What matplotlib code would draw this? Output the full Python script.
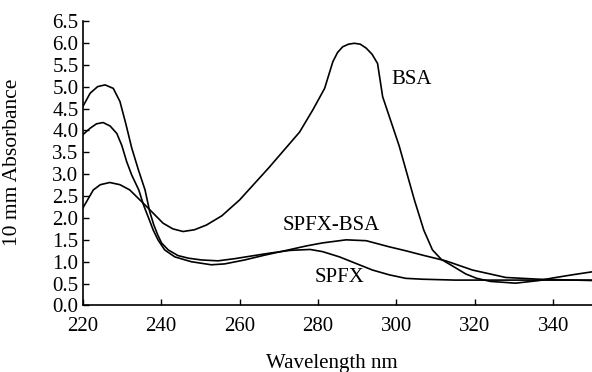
import matplotlib

matplotlib.use("Agg")
import matplotlib.pyplot as plt

plt.rcParams["font.family"] = ["Liberation Serif", "DejaVu Serif"]

# absorbance curves (wavelength nm, absorbance)
bsa_wl = [220, 222.7, 224.5, 226.9, 229.5, 232.0, 236.3, 240.5, 243.0, 245.6,
          248.5, 251.6, 255.5, 260.0, 267.5, 275.3, 278.7, 281.7, 283.8, 285.0,
          286.3, 287.8, 289.3, 290.8, 292.3, 293.8, 295.2, 296.5, 300.7, 304.6,
          307.0, 309.2, 311.5, 314.0, 317.7, 320.5, 324.0, 330.4, 336.4, 340.0,
          344.8, 350]
bsa_abs = [2.22, 2.64, 2.76, 2.81, 2.76, 2.64, 2.26, 1.88, 1.75, 1.69,
           1.73, 1.84, 2.05, 2.41, 3.15, 3.96, 4.47, 4.96, 5.57, 5.78,
           5.91, 5.97, 5.99, 5.97, 5.88, 5.74, 5.53, 4.77, 3.65, 2.41,
           1.72, 1.27, 1.05, 0.92, 0.72, 0.62, 0.55, 0.51, 0.57, 0.63,
           0.70, 0.77]

spfx_wl = [220, 221.9, 223.8, 225.7, 227.8, 229.5, 231.0, 232.5, 234.2, 235.9,
           237.1, 238.1, 239.1, 240.1, 241.8, 244.3, 247.0, 250.3, 254.5, 258.8,
           263.0, 268.0, 273.0, 278.0, 281.2, 285.5, 289.7, 293.9, 298.2, 302.4,
           306.7, 315.0, 330.0, 350]
spfx_abs = [4.54, 4.85, 5.00, 5.04, 4.96, 4.66, 4.15, 3.60, 3.10, 2.64,
            2.14, 1.85, 1.62, 1.43, 1.27, 1.14, 1.08, 1.04, 1.02, 1.07,
            1.13, 1.20, 1.26, 1.28, 1.23, 1.11, 0.96, 0.81, 0.70, 0.62,
            0.60, 0.58, 0.58, 0.58]

mix_wl = [220, 221.9, 223.5, 225.2, 227.0, 228.7, 230.0, 231.2, 232.5, 234.3,
          235.5, 236.8, 238.0, 239.2, 240.9, 243.5, 247.7, 252.8, 256.2, 261.3,
          266.4, 272.0, 277.0, 281.2, 287.2, 292.3, 298.2, 302.4, 306.7, 312.6,
          319.4, 327.9, 336.4, 350]
mix_abs = [3.90, 4.05, 4.15, 4.18, 4.10, 3.93, 3.65, 3.29, 2.98, 2.64,
           2.30, 2.00, 1.72, 1.50, 1.27, 1.11, 1.00, 0.93, 0.95, 1.04,
           1.15, 1.26, 1.36, 1.43, 1.50, 1.48, 1.34, 1.25, 1.15, 1.02,
           0.81, 0.64, 0.60, 0.57]

x_ticks = [220, 240, 260, 280, 300, 320, 340]
y_ticks = [i * 0.5 for i in range(14)]

fig = plt.figure(figsize=(5.92, 3.72), dpi=100)
ax = fig.add_axes([0.1397, 0.1788, 0.861, 0.7648])

for wl, ab in [(bsa_wl, bsa_abs), (spfx_wl, spfx_abs), (mix_wl, mix_abs)]:
    ax.plot(wl, ab, color="black", lw=1.2, solid_joinstyle="round")

ax.set_xlim(220, 350)
ax.set_ylim(0, 6.5)
ax.set_xticks(x_ticks)
ax.set_yticks(y_ticks)
ax.set_yticklabels([f"{v:.1f}" for v in y_ticks])
ax.tick_params(direction="in", length=4.5, width=1.0, labelsize=15)
ax.tick_params(axis="y", pad=3)
ax.tick_params(axis="x", pad=8)

for side in ("top", "right"):
    ax.spines[side].set_visible(False)
for side in ("left", "bottom"):
    ax.spines[side].set_linewidth(1.2)

ax.set_ylabel("10 mm Absorbance", fontsize=15.5)
ax.yaxis.set_label_coords(-0.119, 0.504)
ax.set_xlabel("Wavelength nm", fontsize=15, va="top")
ax.xaxis.set_label_coords(0.488, -0.172)

ax.text(304.0, 5.16, "BSA", fontsize=15, ha="center", va="center")
ax.text(283.3, 1.83, "SPFX-BSA", fontsize=15, ha="center", va="center")
ax.text(285.6, 0.65, "SPFX", fontsize=15, ha="center", va="center")

fig.savefig("out.png", dpi=100)
